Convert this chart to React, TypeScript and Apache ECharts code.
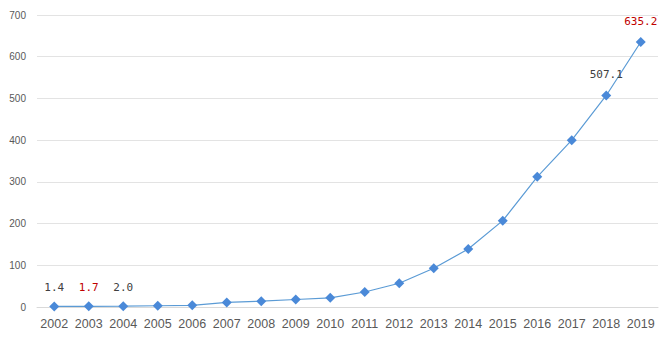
import React, { useEffect, useRef } from "react";
import * as echarts from "echarts";

const years = ["2002","2003","2004","2005","2006","2007","2008","2009","2010","2011","2012","2013","2014","2015","2016","2017","2018","2019"];
const values = [1.4, 1.7, 2.0, 3, 4, 11, 14, 18, 22, 36, 57, 93, 139, 207, 312, 400, 507.1, 635.2];
const labelledYears = ["2002", "2003", "2004", "2018", "2019"];
const redLabelYears = ["2003", "2019"];
const yTicks = [0, 100, 200, 300, 400, 500, 600, 700];

export default function App() {
  const ref = useRef<HTMLDivElement>(null);
  useEffect(() => {
    if (!ref.current) return;
    const chart = echarts.init(ref.current, undefined, { renderer: "svg" });
    const data = values.map((v, i) => {
      const y = years[i];
      const show = labelledYears.includes(y);
      return {
        value: v,
        label: {
          show,
          position: "top",
          distance: y === "2018" || y === "2019" ? 10 : 8,
          color: redLabelYears.includes(y) ? "#c00000" : "#404040",
          fontSize: 11,
          fontFamily: "DejaVu Sans Mono",
          formatter: v.toFixed(1),
        },
      };
    });
    chart.setOption({
      animation: false,
      backgroundColor: "#ffffff",
      grid: { left: 37, right: 12, top: 15, bottom: 32 },
      xAxis: {
        type: "category",
        data: years,
        boundaryGap: true,
        axisLine: { show: true, lineStyle: { color: "#d9d9d9", width: 1 } },
        axisTick: { show: false },
        axisLabel: { interval: 0, color: "#595959", fontSize: 12.5, margin: 10, fontFamily: "Liberation Sans, Arial, sans-serif" },
      },
      yAxis: {
        type: "value",
        min: yTicks[0],
        max: yTicks[yTicks.length - 1],
        interval: 100,
        axisLine: { show: false },
        axisTick: { show: false },
        splitLine: { lineStyle: { color: "#e3e3e3", width: 1 } },
        axisLabel: { color: "#595959", fontSize: 10, margin: 11, fontFamily: "Liberation Sans, Arial, sans-serif" },
      },
      series: [
        {
          type: "line",
          data,
          symbol: "diamond",
          symbolSize: 10,
          lineStyle: { color: "#5b9bd5", width: 1.2 },
          itemStyle: { color: "#4a89d8" },
        },
      ],
    });
    return () => chart.dispose();
  }, []);
  return <div ref={ref} style={{ width: 670, height: 339, margin: -8 }} />;
}
